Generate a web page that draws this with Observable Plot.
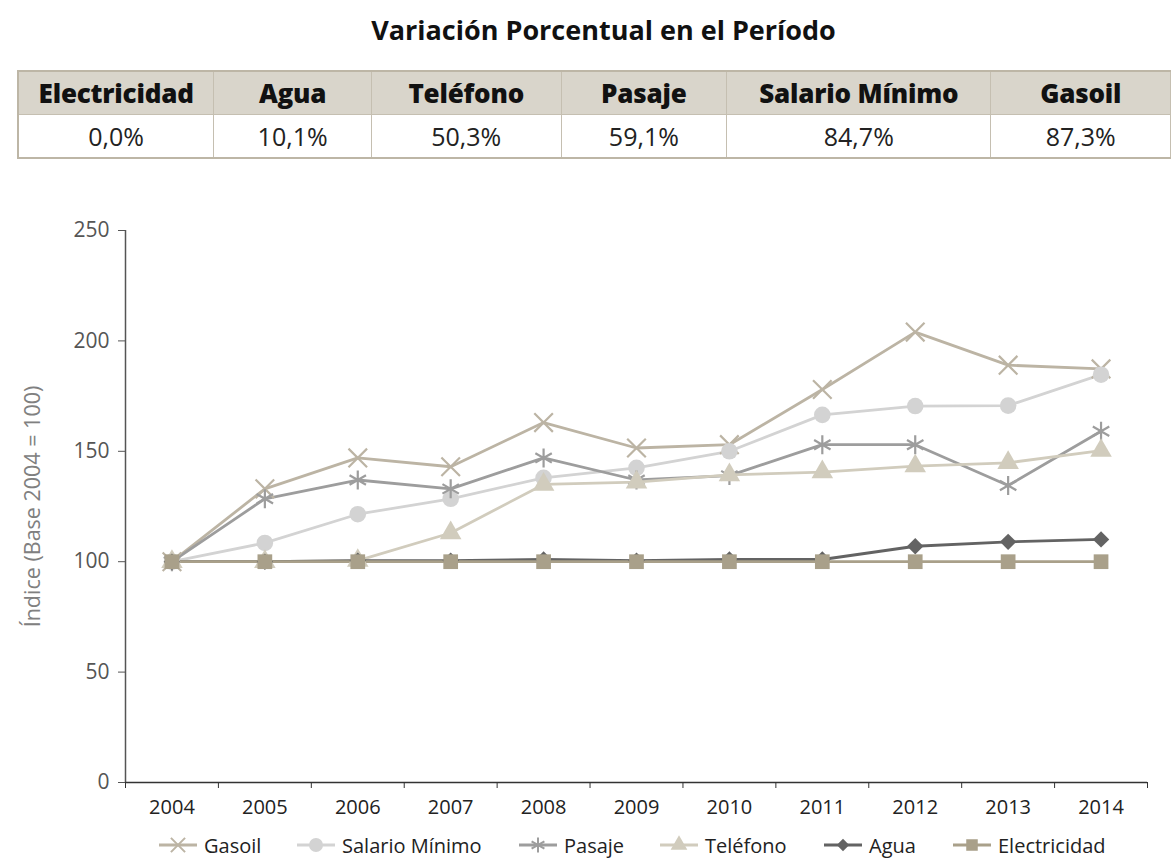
<!DOCTYPE html>
<html>
<head>
<meta charset="utf-8">
<script src="https://cdn.jsdelivr.net/npm/d3@7"></script>
<script src="https://cdn.jsdelivr.net/npm/@observablehq/plot@0.6"></script>
<style>
  html, body { margin: 0; padding: 0; background: #fff; }
  body { width: 1171px; height: 859px; position: relative; overflow: hidden; font-family: "Open Sans", Lato, sans-serif; }
  #title { position: absolute; left: 36px; top: 10px; width: 1135px; text-align: center; font-weight: bold; font-size: 27px; color: #111; line-height: 40px; }
  #tbl { position: absolute; left: 17px; top: 70px; border-collapse: collapse; table-layout: fixed; }
  #tbl td, #tbl th { border: 1px solid #c5bfb1; text-align: center; padding: 0; }
  #tbl th { background: #d9d5cb; height: 42px; font-size: 26px; font-weight: 800; color: #111; letter-spacing: -0.2px; }
  #tbl td { background: #fff; height: 42px; font-size: 25px; color: #222; }
  #tbl { border-top: 2px solid #bdb6a6; border-bottom: 2px solid #bdb6a6; border-left: 2px solid #bdb6a6; }
  #chart { position: absolute; left: 0; top: 170px; }
  #legend { position: absolute; left: 0; top: 831px; width: 1171px; height: 28px; }
  .li { position: absolute; top: 0; display: flex; align-items: center; font-size: 20px; color: #222; height: 28px; }
  .li svg { margin-right: 7px; }
</style>
</head>
<body>
<div id="title">Variación Porcentual en el Período</div>
<table id="tbl"></table>
<div id="chart"></div>
<div id="legend"></div>
<script>
const years = [2004, 2005, 2006, 2007, 2008, 2009, 2010, 2011, 2012, 2013, 2014];
const seriesNames = ["Gasoil", "Salario Mínimo", "Pasaje", "Teléfono", "Agua", "Electricidad"];
const gasoil      = [100, 133, 147, 143, 163, 151.5, 153, 178, 204, 189, 187.3];
const salario     = [100, 108.5, 121.5, 128.5, 138, 142.5, 150, 166.5, 170.5, 170.7, 184.7];
const pasaje      = [100, 128.5, 137, 133, 147, 137, 139, 153, 153, 134.5, 159.1];
const telefono    = [100, 100, 100.5, 113, 135, 136, 139.3, 140.6, 143.3, 144.8, 150.3];
const agua        = [100, 100, 100.5, 100.5, 101, 100.5, 101, 101, 107, 109, 110.1];
const electricidad= [100, 100, 100, 100, 100, 100, 100, 100, 100, 100, 100];

const tableHeaders = ["Electricidad", "Agua", "Teléfono", "Pasaje", "Salario Mínimo", "Gasoil"];
const tableValues  = ["0,0%", "10,1%", "50,3%", "59,1%", "84,7%", "87,3%"];
const yTicks = [0, 50, 100, 150, 200, 250];
const yLabel = "Índice (Base 2004 = 100)";

const colors  = ["#bcb4a4", "#d3d3d3", "#9d9d9d", "#d1ccbd", "#636363", "#a9a08a"];
// square diamond (rotated square) symbol
const diamondSq = {draw(ctx, size) { const r = Math.sqrt(size / Math.PI); ctx.moveTo(0, -r); ctx.lineTo(r, 0); ctx.lineTo(0, r); ctx.lineTo(-r, 0); ctx.closePath(); }};
const symbols = ["times", "circle", "asterisk", "triangle", diamondSq, "square"];
const isStroke = [true, false, true, false, false, false];
const radii   = [8.5, 8.3, 9, 8, 8.2, 8.3];
const legendRadii = [6.5, 7, 7, 6.2, 6.2, 6.5];

// Table
const colWidths = [196, 158, 190, 166, 265, 180];
const tbl = document.getElementById("tbl");
const cg = document.createElement("colgroup");
colWidths.forEach(w => { const c = document.createElement("col"); c.style.width = w + "px"; cg.appendChild(c); });
tbl.appendChild(cg);
const trh = document.createElement("tr");
tableHeaders.forEach(h => { const th = document.createElement("th"); th.textContent = h; trh.appendChild(th); });
tbl.appendChild(trh);
const trv = document.createElement("tr");
tableValues.forEach(v => { const td = document.createElement("td"); td.textContent = v; trv.appendChild(td); });
tbl.appendChild(trv);

// Data
const allValues = [gasoil, salario, pasaje, telefono, agua, electricidad];
const data = [];
seriesNames.forEach((s, i) => years.forEach((y, j) => data.push({series: s, year: y, value: allValues[i][j]})));

const boundaries = d3.range(years[0] - 0.5, years[years.length - 1] + 1, 1);

const marks = [
  Plot.ruleX([years[0] - 0.5], {stroke: "#555", strokeWidth: 1.5}),
  Plot.ruleY([0], {stroke: "#333", strokeWidth: 1.5}),
  Plot.axisY({ticks: yTicks, tickSize: 7, tickPadding: 9, stroke: "#555", fill: "#555", fontSize: 21, label: null}),
  Plot.axisX({ticks: boundaries, tickSize: 6, tickFormat: () => "", stroke: "#333", label: null}),
  Plot.axisX({ticks: years, tickSize: 0, tickPadding: 17, tickFormat: d => String(d), fill: "#222", fontSize: 20, label: null}),
  Plot.text([yLabel], {frameAnchor: "left", rotate: -90, dx: -92, fontSize: 21.5, fill: "#808080", textAnchor: "middle", lineAnchor: "middle"})
];
seriesNames.forEach((s, i) => {
  const sub = data.filter(d => d.series === s);
  marks.push(Plot.line(sub, {x: "year", y: "value", stroke: colors[i], strokeWidth: 2.8}));
});
seriesNames.forEach((s, i) => {
  const sub = data.filter(d => d.series === s);
  marks.push(Plot.dot(sub, isStroke[i]
    ? {x: "year", y: "value", symbol: symbols[i], r: radii[i], stroke: colors[i], strokeWidth: 2.2, fill: "none"}
    : {x: "year", y: "value", symbol: symbols[i], r: radii[i], fill: colors[i], stroke: "none"}));
});

const chart = Plot.plot({
  width: 1171,
  height: 655,
  marginTop: 60,
  marginBottom: 43,
  marginLeft: 125,
  marginRight: 24,
  style: {fontFamily: "'Open Sans', Lato, sans-serif", background: "transparent"},
  x: {domain: [years[0] - 0.5, years[years.length - 1] + 0.5], label: null},
  y: {domain: [0, 250], label: null},
  marks
});
document.getElementById("chart").appendChild(chart);

// Legend
const legendX = [159, 297, 519, 660, 824, 953];
const legend = document.getElementById("legend");
const symMap = {times: d3.symbolTimes, circle: d3.symbolCircle, asterisk: d3.symbolAsterisk, triangle: d3.symbolTriangle, square: d3.symbolSquare};
seriesNames.forEach((s, i) => {
  const div = document.createElement("div");
  div.className = "li";
  div.style.left = legendX[i] + "px";
  const svg = d3.create("svg").attr("width", 38).attr("height", 28);
  svg.append("line").attr("x1", 0).attr("x2", 38).attr("y1", 14).attr("y2", 14).attr("stroke", colors[i]).attr("stroke-width", 3);
  const symType = typeof symbols[i] === "string" ? symMap[symbols[i]] : symbols[i];
  const p = svg.append("path").attr("transform", "translate(19,14)").attr("d", d3.symbol(symType, Math.PI * legendRadii[i] * legendRadii[i]));
  if (isStroke[i]) p.attr("fill", "none").attr("stroke", colors[i]).attr("stroke-width", 2);
  else p.attr("fill", colors[i]);
  div.appendChild(svg.node());
  const span = document.createElement("span");
  span.textContent = s;
  div.appendChild(span);
  legend.appendChild(div);
});
</script>
</body>
</html>
